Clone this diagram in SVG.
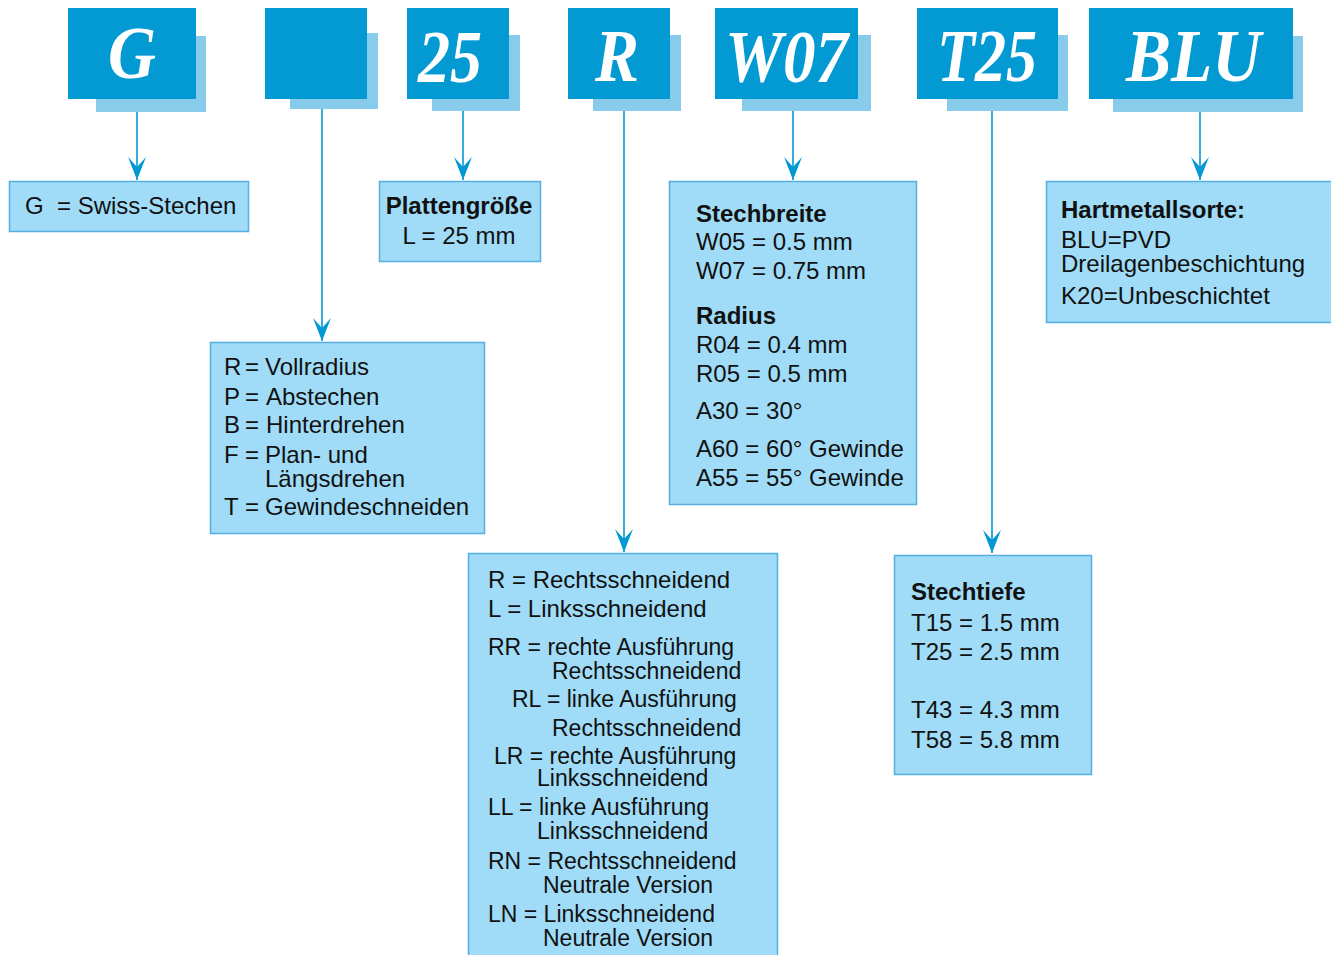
<svg xmlns="http://www.w3.org/2000/svg" width="1331" height="955" viewBox="0 0 1331 955">
<style>
.hd{fill:#0399D3}
.sh{fill:#88CBEA}
.ht{font-family:"Liberation Serif",serif;font-weight:bold;font-style:italic;font-size:75px;fill:#fff}
.bx{fill:#A0DCF7;stroke:#55AEE0;stroke-width:1.5}
.t{font-family:"Liberation Sans",Arial,sans-serif;font-size:24px;fill:#111}
.s{font-size:23px}
.b{font-weight:bold}
.c{fill:none;stroke:#0399D3;stroke-width:1.6}
</style>
<defs>
<marker id="ah" markerUnits="userSpaceOnUse" markerWidth="26" markerHeight="20" refX="23" refY="9" orient="auto" viewBox="0 0 26 18">
<path d="M23,9 L0,0 L10,9 L0,18 Z" fill="#0399D3"/>
</marker>
</defs>
<rect width="1331" height="955" fill="#fff"/>
<g id="connectors">
<line class="c" x1="137" y1="112" x2="137" y2="180" marker-end="url(#ah)"/>
<line class="c" x1="322" y1="109" x2="322" y2="341" marker-end="url(#ah)"/>
<line class="c" x1="463" y1="111" x2="463" y2="180" marker-end="url(#ah)"/>
<line class="c" x1="624" y1="111" x2="624" y2="552" marker-end="url(#ah)"/>
<line class="c" x1="793" y1="111" x2="793" y2="180" marker-end="url(#ah)"/>
<line class="c" x1="992" y1="111" x2="992" y2="553" marker-end="url(#ah)"/>
<line class="c" x1="1200" y1="112" x2="1200" y2="180" marker-end="url(#ah)"/>
</g>
<g id="h-G">
<rect class="sh" x="96" y="36" width="110" height="76"/>
<rect class="hd" x="68" y="8" width="128" height="91"/>
<text class="ht" x="108" y="78" textLength="48" lengthAdjust="spacingAndGlyphs">G</text>
</g>
<g id="h-blank">
<rect class="sh" x="290" y="33" width="88" height="76"/>
<rect class="hd" x="265" y="8" width="102" height="91"/>
</g>
<g id="h-25">
<rect class="sh" x="432" y="35" width="88" height="76"/>
<rect class="hd" x="407" y="8" width="102" height="91"/>
<text class="ht" x="418" y="82" textLength="64" lengthAdjust="spacingAndGlyphs">25</text>
</g>
<g id="h-R">
<rect class="sh" x="593" y="35" width="88" height="76"/>
<rect class="hd" x="568" y="8" width="102" height="91"/>
<text class="ht" x="595" y="81" textLength="44" lengthAdjust="spacingAndGlyphs">R</text>
</g>
<g id="h-W07">
<rect class="sh" x="742" y="35" width="129" height="76"/>
<rect class="hd" x="715" y="8" width="143" height="91"/>
<text class="ht" x="725" y="82" textLength="123" lengthAdjust="spacingAndGlyphs">W07</text>
</g>
<g id="h-T25">
<rect class="sh" x="947" y="35" width="121" height="76"/>
<rect class="hd" x="917" y="8" width="141" height="91"/>
<text class="ht" x="937" y="81" textLength="100" lengthAdjust="spacingAndGlyphs">T25</text>
</g>
<g id="h-BLU">
<rect class="sh" x="1113" y="36" width="190" height="76"/>
<rect class="hd" x="1089" y="8" width="204" height="91"/>
<text class="ht" x="1126" y="81" textLength="135" lengthAdjust="spacingAndGlyphs">BLU</text>
</g>
<g id="n-G">
<rect class="bx" x="9.5" y="181.5" width="239" height="50"/>
<text class="t" x="25" y="214">G<tspan x="57">= Swiss-Stechen</tspan></text>
</g>
<g id="n-platte">
<rect class="bx" x="379.5" y="181.5" width="161" height="80"/>
<text class="t b" x="459" y="214" text-anchor="middle">Plattengröße</text>
<text class="t" x="459" y="244" text-anchor="middle">L = 25 mm</text>
</g>
<g id="n-form">
<rect class="bx" x="210.5" y="342.5" width="274" height="191"/>
<text class="t" x="224" y="375">R<tspan x="245">=</tspan><tspan x="265">Vollradius</tspan></text>
<text class="t" x="224" y="405">P<tspan x="245">=</tspan><tspan x="266">Abstechen</tspan></text>
<text class="t" x="224" y="433">B<tspan x="245">=</tspan><tspan x="266">Hinterdrehen</tspan></text>
<text class="t" x="224" y="463">F<tspan x="245">=</tspan><tspan x="265">Plan- und</tspan></text>
<text class="t" x="265" y="487">Längsdrehen</text>
<text class="t" x="224" y="515">T<tspan x="245">=</tspan><tspan x="265">Gewindeschneiden</tspan></text>
</g>
<g id="n-W">
<rect class="bx" x="669.5" y="181.5" width="247" height="323"/>
<text class="t b" x="696" y="222">Stechbreite</text>
<text class="t" x="696" y="250">W05 = 0.5 mm</text>
<text class="t" x="696" y="279">W07 = 0.75 mm</text>
<text class="t b" x="696" y="324">Radius</text>
<text class="t" x="696" y="353">R04 = 0.4 mm</text>
<text class="t" x="696" y="382">R05 = 0.5 mm</text>
<text class="t" x="696" y="419">A30 = 30°</text>
<text class="t" x="696" y="457">A60 = 60° Gewinde</text>
<text class="t" x="696" y="486">A55 = 55° Gewinde</text>
</g>
<g id="n-R">
<rect class="bx" x="468.5" y="553.5" width="309" height="410"/>
<text class="t" x="488" y="588">R = Rechtsschneidend</text>
<text class="t" x="488" y="617">L = Linksschneidend</text>
<text class="t s" x="488" y="655">RR = rechte Ausführung</text>
<text class="t s" x="552" y="679">Rechtsschneidend</text>
<text class="t s" x="512" y="707">RL = linke Ausführung</text>
<text class="t s" x="552" y="736">Rechtsschneidend</text>
<text class="t s" x="494" y="764">LR = rechte Ausführung</text>
<text class="t s" x="537" y="786">Linksschneidend</text>
<text class="t s" x="488" y="815">LL = linke Ausführung</text>
<text class="t s" x="537" y="839">Linksschneidend</text>
<text class="t s" x="488" y="869">RN = Rechtsschneidend</text>
<text class="t s" x="543" y="893">Neutrale Version</text>
<text class="t s" x="488" y="922">LN = Linksschneidend</text>
<text class="t s" x="543" y="946">Neutrale Version</text>
</g>
<g id="n-T">
<rect class="bx" x="894.5" y="555.5" width="197" height="219"/>
<text class="t b" x="911" y="600">Stechtiefe</text>
<text class="t" x="911" y="631">T15 = 1.5 mm</text>
<text class="t" x="911" y="660">T25 = 2.5 mm</text>
<text class="t" x="911" y="718">T43 = 4.3 mm</text>
<text class="t" x="911" y="748">T58 = 5.8 mm</text>
</g>
<g id="n-BLU">
<rect class="bx" x="1046.5" y="181.5" width="290" height="141"/>
<text class="t b" x="1061" y="218">Hartmetallsorte:</text>
<text class="t" x="1061" y="248">BLU=PVD</text>
<text class="t" x="1061" y="272">Dreilagenbeschichtung</text>
<text class="t" x="1061" y="304">K20=Unbeschichtet</text>
</g>
</svg>
